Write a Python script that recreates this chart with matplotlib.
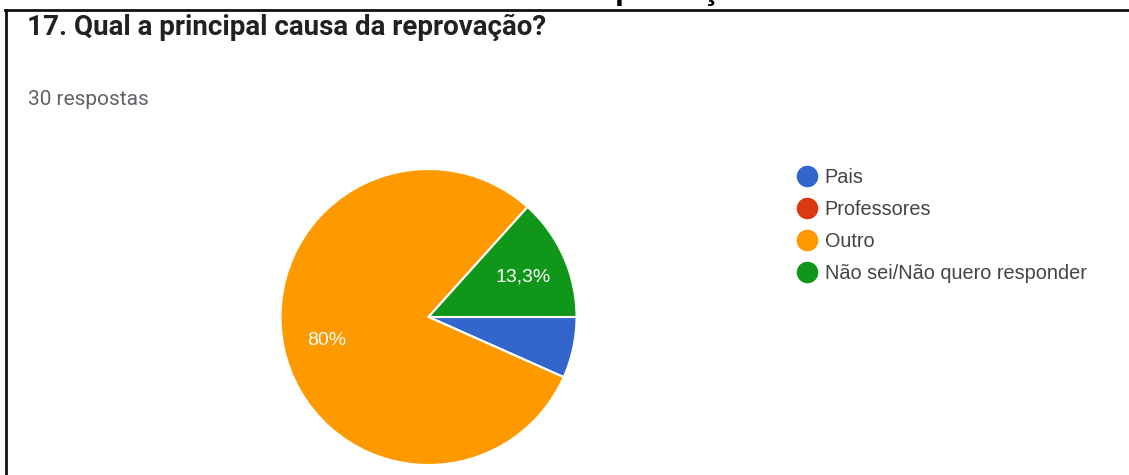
import matplotlib.pyplot as plt
from matplotlib.lines import Line2D

# survey answers (30 responses)
labels = ['Pais', 'Professores', 'Outro', 'Não sei/Não quero responder']
counts = [2, 0, 24, 4]
colors = ['#3366cc', '#dc3912', '#ff9900', '#109618']
title = '17. Qual a principal causa da reprovação?'
subtitle = '30 respostas'
heading = 'Reprovação'

W, H = 1129, 475
plt.rcParams['font.family'] = ['Liberation Sans', 'DejaVu Sans']

fig = plt.figure(figsize=(W / 100, H / 100), dpi=100)
fig.patch.set_facecolor('white')


def px(x, y):
    return x / W, 1 - y / H


def pct_label(p):
    if p < 10:
        return ''
    s = f'{p:.1f}'.rstrip('0').rstrip('.')
    return s.replace('.', ',') + '%'


# pie: center (428, 317), radius 148 px
cx, cy, r = 428.5, 317, 148
ax = fig.add_axes([(cx - r) / W, (H - cy - r) / H, 2 * r / W, 2 * r / H])
wedges, _, autotexts = ax.pie(
    counts, colors=colors, startangle=0, counterclock=False,
    autopct=pct_label, pctdistance=0.7,
    wedgeprops=dict(edgecolor='white', linewidth=1.5),
    textprops=dict(color='white', fontsize=14))
for t in autotexts:
    t.set_va('center_baseline')
ax.set_xlim(-1, 1)
ax.set_ylim(-1, 1)
ax.set_aspect('equal')

# legend with round markers
handles = [Line2D([], [], marker='o', linestyle='none', markersize=14.5,
                  markerfacecolor=c, markeredgecolor=c) for c in colors]
fig.legend(handles, labels, loc='upper left', bbox_to_anchor=px(789, 160),
           frameon=False, fontsize=14.3, handletextpad=0.4, labelspacing=0.66,
           borderaxespad=0, labelcolor='#444444', handlelength=1.0)

# header texts
fig.text(*px(27, 35), title, fontsize=20, fontweight='bold', color='#202124',
         va='baseline', ha='left', family='Roboto')
fig.text(*px(28, 105), subtitle, fontsize=15, color='#5f6368',
         va='baseline', ha='left', family='Roboto')
fig.text(*px(666, -1.5), heading, fontsize=23, fontweight='bold', color='black',
         va='baseline', ha='center')

# frame lines (top and left)
fig.add_artist(Line2D([5 / W, 1], [1 - 9.5 / H, 1 - 9.5 / H], color='#111111', lw=2))
fig.add_artist(Line2D([5.5 / W, 5.5 / W], [0, 1 - 9.5 / H], color='#111111', lw=2))

fig.savefig('out.png', dpi=100, facecolor='white')
